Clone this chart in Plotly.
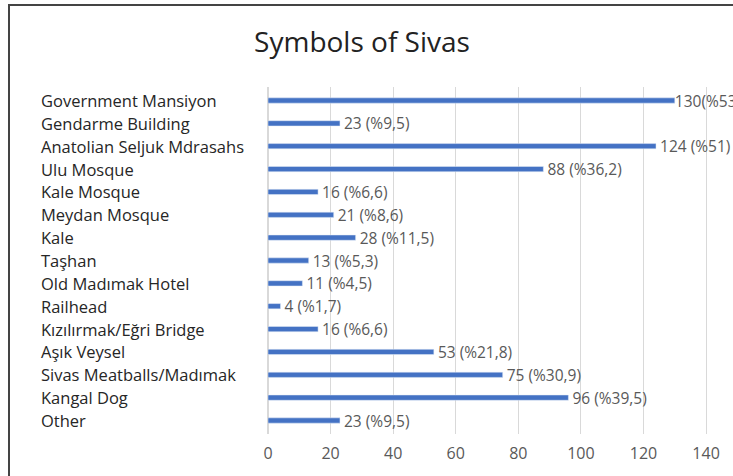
import plotly.graph_objects as go

# Symbols of Sivas - counts and share of respondents
symbols = [
    "Government Mansiyon", "Gendarme Building", "Anatolian Seljuk Mdrasahs",
    "Ulu Mosque", "Kale Mosque", "Meydan Mosque", "Kale", "Taşhan",
    "Old Madımak Hotel", "Railhead", "Kızılırmak/Eğri Bridge", "Aşık Veysel",
    "Sivas Meatballs/Madımak", "Kangal Dog", "Other",
]
counts = [130, 23, 124, 88, 16, 21, 28, 13, 11, 4, 16, 53, 75, 96, 23]
shares = ["53,5", "9,5", "51", "36,2", "6,6", "8,6", "11,5", "5,3", "4,5", "1,7",
          "6,6", "21,8", "30,9", "39,5", "9,5"]
x_ticks = [0, 20, 40, 60, 80, 100, 120, 140]

labels = []
for c, s in zip(counts, shares):
    if c == 130:
        labels.append("%d(%%%s)" % (c, s))
    else:
        labels.append(" %d (%%%s)" % (c, s))

W, H = 733, 476
L, R, T, B = 268, 0, 87, 42
pw = W - L - R
ph = H - T - B

def px_x(px):
    return (px - L) / pw

def px_y(py):
    return (H - B - py) / ph

fig = go.Figure(go.Bar(
    x=counts, y=symbols, orientation="h",
    marker_color="#4472C4",
    text=labels, textposition="outside", cliponaxis=False,
    constraintext="none",
    textfont=dict(family="Open Sans", size=15.5, color="#595959"),
))

annotations = []
for s in symbols:
    annotations.append(dict(
        x=px_x(39), xref="paper", y=s, yref="y", text=s, showarrow=False,
        xanchor="left", yanchor="middle",
        font=dict(family="Open Sans", size=16.5, color="#262626"),
    ))

fig.update_layout(
    width=W, height=H,
    margin=dict(l=L, r=R, t=T, b=B),
    paper_bgcolor="white", plot_bgcolor="white",
    title=dict(text="Symbols of Sivas", x=362 / W, xanchor="center",
               y=1 - 42 / H, yanchor="middle",
               font=dict(family="Open Sans", size=28, color="#222222")),
    bargap=0.77,
    showlegend=False,
    annotations=annotations,
    shapes=[
        dict(type="line", xref="paper", yref="paper", x0=px_x(8), x1=px_x(740),
             y0=px_y(5), y1=px_y(5), line=dict(color="#444444", width=2)),
        dict(type="line", xref="paper", yref="paper", x0=px_x(9), x1=px_x(9),
             y0=px_y(4), y1=px_y(480), line=dict(color="#444444", width=2)),
    ],
)
fig.update_xaxes(range=[0, 148.6], tickvals=x_ticks, showgrid=True,
                 gridcolor="#d9d9d9", gridwidth=1, zeroline=True,
                 zerolinecolor="#d9d9d9", showline=False, ticks="",
                 ticklabelstandoff=8,
                 tickfont=dict(family="Open Sans", size=16, color="#595959"))
fig.update_yaxes(autorange="reversed", showticklabels=False, showgrid=False,
                 showline=False, ticks="")

fig.write_html("out.html", config={"displayModeBar": False},
               post_script="document.body.style.margin='0';")
